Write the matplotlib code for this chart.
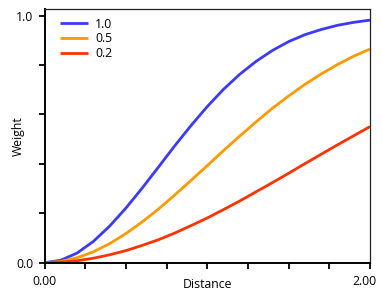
import matplotlib
matplotlib.use("Agg")
import matplotlib.pyplot as plt
import matplotlib.transforms as mtransforms

plt.rcParams['font.family'] = ['Open Sans', 'DejaVu Sans']

distance = [0.0, 0.1, 0.2, 0.3, 0.4, 0.5, 0.6, 0.7, 0.8, 0.9, 1.0,
            1.1, 1.2, 1.3, 1.4, 1.5, 1.6, 1.7, 1.8, 1.9, 2.0]
weight_10 = [0.0, 0.010, 0.039, 0.086, 0.148, 0.221, 0.302, 0.387, 0.473, 0.555, 0.632,
             0.702, 0.763, 0.815, 0.859, 0.895, 0.923, 0.944, 0.961, 0.973, 0.982]
weight_05 = [0.0, 0.005, 0.020, 0.044, 0.077, 0.118, 0.165, 0.217, 0.274, 0.333, 0.393,
             0.454, 0.513, 0.570, 0.625, 0.675, 0.722, 0.764, 0.802, 0.836, 0.865]
weight_02 = [0.0, 0.002, 0.008, 0.018, 0.032, 0.049, 0.070, 0.093, 0.120, 0.150, 0.181,
             0.215, 0.250, 0.287, 0.324, 0.362, 0.401, 0.439, 0.477, 0.514, 0.551]
series_labels = ["1.0", "0.5", "0.2"]
colors = ["#3b3bf7", "#ff9900", "#ff3300"]

fig = plt.figure(figsize=(3.82, 3.0), dpi=100)
ax = fig.add_axes([0.1165, 0.1243, 0.8521, 0.8457])

for ys, lab, c in zip([weight_10, weight_05, weight_02], series_labels, colors):
    ax.plot(distance, ys, color=c, lw=2.0, label=lab, solid_capstyle='butt')

ax.set_xlim(0, 2.0)
ax.set_ylim(0, 1.027)

ax.set_xticks([0.0, 2.0])
ax.set_xticklabels(["0.00", "2.00"])
ax.set_xticks([0.25, 0.5, 0.75, 1.0, 1.25, 1.5, 1.75], minor=True)
ax.set_yticks([0.0, 1.0])
ax.set_yticklabels(["0.0", "1.0"])
ax.set_yticks([0.2, 0.4, 0.6, 0.8], minor=True)

fs = 8.8
ax.tick_params(axis='both', which='both', direction='out', length=4, width=1.3,
               labelsize=fs, colors='black')
ax.tick_params(axis='x', which='major', pad=5)
ax.tick_params(axis='y', which='major', pad=4)

# shift right-hand x label left a bit
lbls = ax.get_xticklabels()
offset = mtransforms.ScaledTranslation(-6/100, 0, fig.dpi_scale_trans)
lbls[1].set_transform(lbls[1].get_transform() + offset)

for s in ['left', 'bottom']:
    ax.spines[s].set_linewidth(1.4)
for s in ['top', 'right']:
    ax.spines[s].set_linewidth(0.9)
    ax.spines[s].set_color('#222222')

ax.set_xlabel("Distance", fontsize=fs)
ax.xaxis.set_label_coords(0.5, -0.06)
ax.set_ylabel("Weight", fontsize=fs)
ax.yaxis.set_label_coords(-0.06, 0.5)

ax.legend(loc='upper left', frameon=False, fontsize=fs, handlelength=2.3,
          handletextpad=0.6, labelspacing=0.15, borderaxespad=0.3,
          bbox_to_anchor=(0.02, 1.0))

fig.savefig("out.png", dpi=100)
